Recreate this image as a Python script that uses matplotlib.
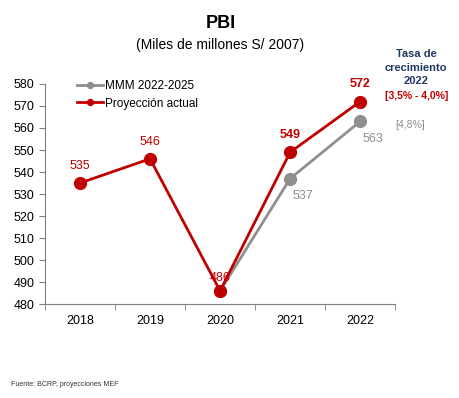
import numpy as np
import matplotlib.pyplot as plt

plt.rcParams['font.family'] = ['Liberation Sans', 'DejaVu Sans']

# datos
anios = ['2018', '2019', '2020', '2021', '2022']
mmm_anios = ['2020', '2021', '2022']
mmm_valores = [486, 537, 563]
proy_valores = [535, 546, 486, 549, 572]
proy_negrita = [False, False, False, True, True]

rojo = '#C00000'
gris = '#8F8F8F'

fig = plt.figure(figsize=(4.59, 3.98), dpi=100)
ax = fig.add_axes([0.098, 0.236, 0.763, 0.553])

x = np.arange(len(anios))
x_mmm = [anios.index(a) for a in mmm_anios]

ax.plot(x_mmm, mmm_valores, color=gris, lw=2, marker='o', ms=8.5, label='MMM 2022-2025', zorder=2)
ax.plot(x, proy_valores, color=rojo, lw=2, marker='o', ms=8.5, label='Proyección actual', zorder=3)

# etiquetas de la proyección
for xi, v, b in zip(x, proy_valores, proy_negrita):
    off = 5 if v == 486 else 8
    ax.annotate(str(v), (xi, v), xytext=(0, off), textcoords='offset points', ha='center', va='bottom',
                color=rojo, fontsize=9, fontweight='bold' if b else 'normal', zorder=4)
for xi, v in zip(x_mmm[1:], mmm_valores[1:]):
    ax.annotate(str(v), (xi, v), xytext=(9, -8), textcoords='offset points', ha='center', va='top',
                color=gris, fontsize=9)

ax.set_xlim(-0.5, len(anios) - 0.5)
ax.set_ylim(480, 580)
ax.set_yticks(np.arange(480, 581, 10))
ax.set_xticks(x)
ax.set_xticklabels(anios)
ax.set_xticks(np.arange(-0.5, len(anios)), minor=True)
ax.tick_params(axis='x', which='major', length=0, pad=8, labelsize=9)
ax.tick_params(axis='x', which='minor', length=4, color='#808080')
ax.tick_params(axis='y', length=4, labelsize=9, color='#808080')
for s in ['top', 'right']:
    ax.spines[s].set_visible(False)
ax.spines['left'].set_color('#808080')
ax.spines['bottom'].set_color('#808080')

leg = ax.legend(loc='upper left', bbox_to_anchor=(0.06, 1.065), frameon=False, fontsize=8.5,
                handlelength=2.2, markerscale=0.5, labelspacing=0.45, handletextpad=0.2)

fig.text(0.48, 0.94, 'PBI', ha='center', va='center', fontsize=13, fontweight='bold')
fig.text(0.48, 0.887, '(Miles de millones S/ 2007)', ha='center', va='center', fontsize=10)
fig.text(0.907, 0.83, 'Tasa de\ncrecimiento\n2022', ha='center', va='center', fontsize=8,
         fontweight='bold', color='#1F3864', linespacing=1.45)
fig.text(0.907, 0.759, '[3,5% - 4,0%]', ha='center', va='center', fontsize=7.5, fontweight='bold', color=rojo)
fig.text(0.893, 0.686, '[4,8%]', ha='center', va='center', fontsize=7.5, color=gris)
fig.text(0.025, 0.033, 'Fuente: BCRP, proyecciones MEF', ha='left', va='center', fontsize=5, color='#333333')

plt.savefig('out.png', dpi=100)
